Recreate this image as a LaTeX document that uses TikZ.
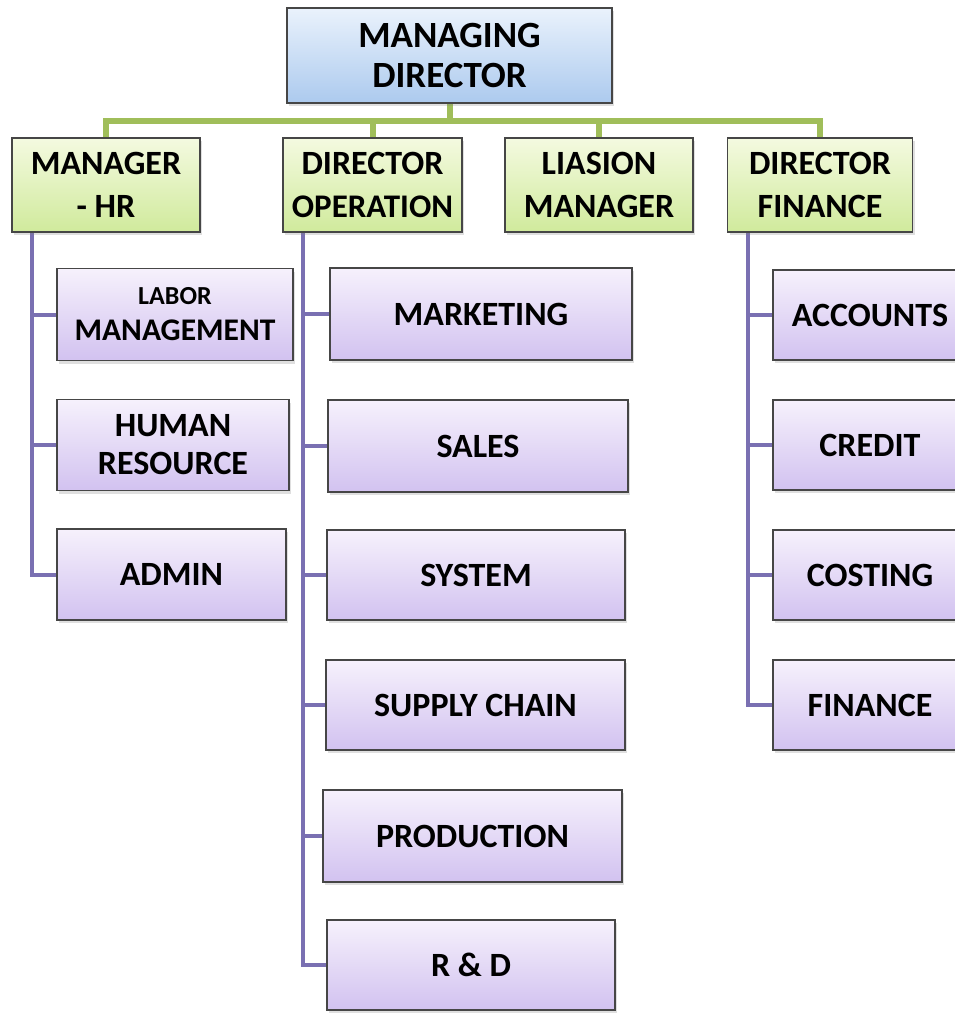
\documentclass[tikz,border=0pt]{standalone}
\usepackage{fontspec}
\setmainfont{Carlito}
\usetikzlibrary{shadows,backgrounds}

\definecolor{edge}{RGB}{70,70,70}
\definecolor{bluetop}{RGB}{234,242,252}
\definecolor{bluebot}{RGB}{172,202,238}
\definecolor{greentop}{RGB}{244,250,224}
\definecolor{greenbot}{RGB}{208,234,156}
\definecolor{purptop}{RGB}{246,241,252}
\definecolor{purpmid}{RGB}{232,222,246}
\definecolor{purpbot}{RGB}{210,194,240}
\definecolor{greenline}{RGB}{160,190,90}
\definecolor{purpline}{RGB}{122,112,178}

\tikzset{
  box/.style={draw=edge, line width=1.2pt, align=center, inner sep=0pt,
    font=\bfseries, text=black,
    drop shadow={shadow xshift=2pt, shadow yshift=-3pt, opacity=0.25}},
  topbox/.style={box, top color=bluetop, bottom color=bluebot,
    font=\bfseries\fontsize{37}{40}\selectfont},
  headbox/.style={box, top color=greentop, bottom color=greenbot,
    font=\bfseries\fontsize{34}{43}\selectfont},
  unitbox/.style={box, top color=purptop, middle color=purpmid, bottom color=purpbot,
    font=\bfseries\fontsize{34}{38}\selectfont},
  gline/.style={draw=greenline, line width=6pt},
  pline/.style={draw=purpline, line width=4pt},
}

\begin{document}
\begin{tikzpicture}[x=1pt, y=-1pt]
\useasboundingbox (0,0) rectangle (955,1015);

\coordinate (bus) at (0,121);
\coordinate (hrT) at (32,232);
\coordinate (doT) at (303,232);
\coordinate (dfT) at (748,232);

% top level
\node[topbox, minimum width=325pt, minimum height=95pt] (md) at (449.5,55.5) {MANAGING\\DIRECTOR};

% second level
\node[headbox, minimum width=188pt, minimum height=94pt] (hr) at (106,185) {MANAGER\\- HR};
\node[headbox, minimum width=179pt, minimum height=94pt] (do) at (372.5,185) {DIRECTOR\\{\fontsize{33}{43}\selectfont OPERATION}};
\node[headbox, minimum width=188pt, minimum height=94pt] (lm) at (599,185) {LIASION\\MANAGER};
\node[headbox, minimum width=185pt, minimum height=94pt] (df) at (820,185) {DIRECTOR\\FINANCE};

% HR units
\node[unitbox, minimum width=236pt, minimum height=92pt] (lab) at (175,314.5)
  {{\fontsize{26}{30}\selectfont LABOR}\\[-2pt]{\fontsize{31.5}{34}\selectfont MANAGEMENT}};
\node[unitbox, minimum width=232pt, minimum height=91pt] (hum) at (173,445) {HUMAN\\RESOURCE};
\node[unitbox, minimum width=229pt, minimum height=91pt] (adm) at (171.5,574.5) {ADMIN};

% operation units
\node[unitbox, minimum width=302pt, minimum height=92pt] (mkt) at (481,314) {MARKETING};
\node[unitbox, minimum width=300pt, minimum height=92pt] (sal) at (478,446) {SALES};
\node[unitbox, minimum width=298pt, minimum height=90pt] (sys) at (476,575) {SYSTEM};
\node[unitbox, minimum width=299pt, minimum height=90pt] (sup) at (475.5,705) {SUPPLY CHAIN};
\node[unitbox, minimum width=299pt, minimum height=92pt] (pro) at (472.5,836) {PRODUCTION};
\node[unitbox, minimum width=288pt, minimum height=90pt] (rnd) at (471,965) {R \& D};

% finance units
\node[unitbox, minimum width=194pt, minimum height=90pt] (acc) at (870,315) {ACCOUNTS};
\node[unitbox, minimum width=194pt, minimum height=90pt] (cre) at (870,445) {CREDIT};
\node[unitbox, minimum width=194pt, minimum height=90pt] (cos) at (870,575) {COSTING};
\node[unitbox, minimum width=194pt, minimum height=90pt] (fin) at (870,705) {FINANCE};

\begin{scope}[on background layer]
% green bus from the managing director to the heads
\draw[gline] (md.south) -- (md.south |- bus);
\draw[gline] (hr.north) -- (hr.north |- bus) -- (df.north |- bus) -- (df.north);
\draw[gline] (do.north) -- (do.north |- bus);
\draw[gline] (lm.north) -- (lm.north |- bus);

% HR trunk and branches
\draw[pline] (hrT) |- (adm.west);
\draw[pline] (lab.west -| hrT) -- (lab.west);
\draw[pline] (hum.west -| hrT) -- (hum.west);

% operation trunk and branches
\draw[pline] (doT) |- (rnd.west);
\draw[pline] (mkt.west -| doT) -- (mkt.west);
\draw[pline] (sal.west -| doT) -- (sal.west);
\draw[pline] (sys.west -| doT) -- (sys.west);
\draw[pline] (sup.west -| doT) -- (sup.west);
\draw[pline] (pro.west -| doT) -- (pro.west);

% finance trunk and branches
\draw[pline] (dfT) |- (fin.west);
\draw[pline] (acc.west -| dfT) -- (acc.west);
\draw[pline] (cre.west -| dfT) -- (cre.west);
\draw[pline] (cos.west -| dfT) -- (cos.west);
\end{scope}
\end{tikzpicture}
\end{document}
